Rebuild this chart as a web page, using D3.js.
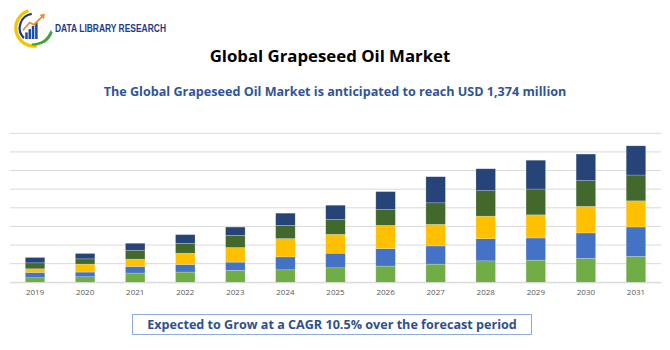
<!DOCTYPE html>
<html>
<head>
<meta charset="utf-8">
<script src="https://cdn.jsdelivr.net/npm/d3@7"></script>
<style>
  body { margin: 0; background: #fff; }
  svg { display: block; }
</style>
</head>
<body>
<svg id="chart" width="670" height="350"></svg>
<script>
const WIDTH = 670;
const HEIGHT = 350;

// USD million, stacked from the bottom up
const years = ["2019", "2020", "2021", "2022", "2023", "2024", "2025", "2026", "2027", "2028", "2029", "2030", "2031"];
const seriesNames = ["s1", "s2", "s3", "s4", "s5"];
const s1 = [46, 56, 93, 103, 120, 126, 146, 163, 183, 216, 223, 240, 260];
const s2 = [54, 47, 67, 77, 83, 130, 147, 177, 183, 223, 223, 257, 297];
const s3 = [36, 80, 73, 113, 147, 184, 190, 233, 217, 227, 233, 267, 263];
const s4 = [60, 53, 90, 100, 123, 133, 150, 160, 217, 257, 260, 260, 260];
const s5 = [54, 54, 70, 87, 83, 123, 143, 180, 263, 220, 290, 267, 294];
const gridValues = d3.range(0, 1501, 187.5);
const colors = ["#70AD47", "#4472C4", "#FFC000", "#43682B", "#264478"];

const rows = years.map((y, i) => ({
  year: y, s1: s1[i], s2: s2[i], s3: s3[i], s4: s4[i], s5: s5[i]
}));

const svg = d3.select("#chart");

// logo
const logo = svg.append("g").attr("transform", "translate(34,28) scale(1.1)");
logo.append("path")
  .attr("d", d3.arc()({ innerRadius: 15, outerRadius: 18, startAngle: Math.PI * 0.95, endAngle: Math.PI * 1.9 }))
  .attr("fill", "#F5C400");
logo.append("path")
  .attr("d", d3.arc()({ innerRadius: 12, outerRadius: 14, startAngle: Math.PI * 1.25, endAngle: Math.PI * 1.95 }))
  .attr("fill", "#1F3C88");
logo.append("path")
  .attr("d", "M-2,14 C6,14 12,10 15,2 L17,4 C14,12 8,16 -2,16 Z")
  .attr("fill", "#3BA53B");
[[-8, 4, 6], [-5, 1, 9], [-2, -2, 12], [1, -5, 15]].forEach(([x, y, h]) => {
  logo.append("rect").attr("x", x).attr("y", y).attr("width", 2.3).attr("height", h).attr("fill", "#1F4FA0");
});
logo.append("path")
  .attr("d", "M-10,2 L-4,-5 L0,-3 L8,-11")
  .attr("fill", "none").attr("stroke", "#F08A24").attr("stroke-width", 1.6);
logo.append("path").attr("d", "M10,-13 L5,-12 L9,-8 Z").attr("fill", "#F08A24");
svg.append("text")
  .attr("x", 55).attr("y", 31.5)
  .attr("textLength", 111).attr("lengthAdjust", "spacingAndGlyphs")
  .attr("font-family", "Liberation Sans Narrow, Liberation Sans, sans-serif")
  .attr("font-weight", "bold").attr("font-size", 11)
  .attr("fill", "#1F3C88")
  .text("DATA LIBRARY RESEARCH");

// titles
svg.append("text")
  .attr("x", 330).attr("y", 62)
  .attr("text-anchor", "middle")
  .attr("font-family", "Open Sans, sans-serif")
  .attr("font-weight", "bold").attr("font-size", 16.8)
  .attr("fill", "#000")
  .text("Global Grapeseed Oil Market");

svg.append("text")
  .attr("x", 335).attr("y", 96)
  .attr("text-anchor", "middle")
  .attr("font-family", "Open Sans, sans-serif")
  .attr("font-weight", "bold").attr("font-size", 12.6)
  .attr("fill", "#2F5597")
  .text("The Global Grapeseed Oil Market is anticipated to reach USD 1,374 million");

// scales
const x = d3.scaleBand()
  .domain(years)
  .range([10, 661])
  .paddingInner(0.61)
  .paddingOuter(0.305);

const y = d3.scaleLinear()
  .domain([0, 1500])
  .range([282.3, 133.3]);

svg.append("g")
  .selectAll("line")
  .data(gridValues)
  .join("line")
  .attr("x1", 10).attr("x2", 661)
  .attr("y1", d => y(d)).attr("y2", d => y(d))
  .attr("stroke", "#D9D9D9").attr("stroke-width", 1);

const stacked = d3.stack().keys(seriesNames)(rows);

svg.append("g")
  .selectAll("g")
  .data(stacked)
  .join("g")
  .attr("fill", (d, i) => colors[i])
  .selectAll("rect")
  .data(d => d)
  .join("rect")
  .attr("x", d => x(d.data.year))
  .attr("width", x.bandwidth())
  .attr("y", d => y(d[1]))
  .attr("height", d => y(d[0]) - y(d[1]))
  .attr("stroke", "#fff").attr("stroke-opacity", 0.35).attr("stroke-width", 0.6);

const xAxis = svg.append("g")
  .attr("transform", `translate(0,${y(0)})`)
  .call(d3.axisBottom(x).tickSize(0).tickPadding(7));
xAxis.select(".domain").attr("stroke", "#D9D9D9");
xAxis.selectAll("text")
  .attr("font-family", "Open Sans, sans-serif")
  .attr("font-size", 8)
  .attr("fill", "#595959");

// footer box
svg.append("rect")
  .attr("x", 132.5).attr("y", 314.5)
  .attr("width", 399).attr("height", 20)
  .attr("fill", "#fff")
  .attr("stroke", "#8FAADC").attr("stroke-width", 1);
svg.append("text")
  .attr("x", 332).attr("y", 328.5)
  .attr("text-anchor", "middle")
  .attr("font-family", "Open Sans, sans-serif")
  .attr("font-weight", "bold").attr("font-size", 12.6)
  .attr("fill", "#2F4F8F")
  .text("Expected to Grow at a CAGR 10.5% over the forecast period");
</script>
</body>
</html>
